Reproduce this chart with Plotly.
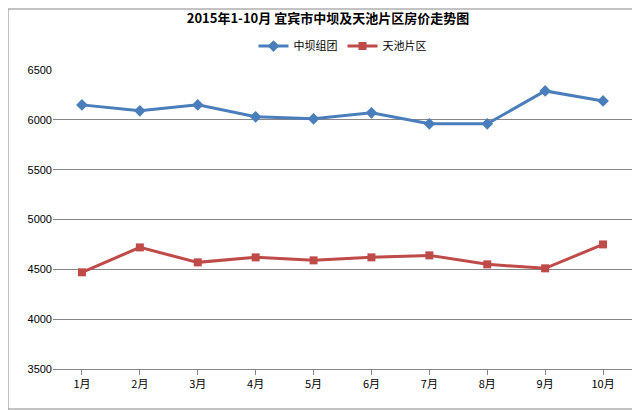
import plotly.graph_objects as go

months = ["1月","2月","3月","4月","5月","6月","7月","8月","9月","10月"]
zhongba = [6150,6090,6150,6030,6010,6070,5960,5960,6290,6190]
tianchi = [4470,4720,4570,4620,4590,4620,4640,4550,4510,4750]

fig = go.Figure()
fig.add_trace(go.Scatter(x=months, y=zhongba, name="中坝组团", mode="lines+markers",
    line=dict(color="#4A7EBB", width=3), marker=dict(symbol="diamond", size=9, color="#4A7EBB")))
fig.add_trace(go.Scatter(x=months, y=tianchi, name="天池片区", mode="lines+markers",
    line=dict(color="#BE4B48", width=3), marker=dict(symbol="square", size=8, color="#BE4B48")))

fig.update_layout(
    width=640, height=410, paper_bgcolor="white", plot_bgcolor="white",
    margin=dict(l=45, r=16, t=62, b=49),
    title=dict(text="<b>2015年1-10月 宜宾市中坝及天池片区房价走势图</b>", x=0.5, y=0.985, xanchor="center", yanchor="top",
               font=dict(family="Noto Sans CJK SC", size=13, color="black")),
    legend=dict(orientation="h", x=0.5, xanchor="center", y=1.08, yanchor="middle",
                font=dict(family="Noto Sans CJK SC", size=11, color="black")),
    xaxis=dict(showgrid=False, showline=True, linecolor="#868686", ticks="outside", tickcolor="#868686",
               range=[-0.5, 9.5], tickfont=dict(family="Noto Sans CJK SC", size=11, color="black")),
    yaxis=dict(range=[3500, 6500], dtick=500, showgrid=True, gridcolor="#868686", gridwidth=1,
               showline=False, zeroline=False, tickfont=dict(family="Liberation Sans", size=11, color="black")),
    shapes=[dict(type="rect", xref="paper", yref="paper", x0=-45/579, x1=1+14/579, y0=-40/299, y1=1+61/299,
                 line=dict(color="#868686", width=1))],
)
fig.write_html("out.html")
